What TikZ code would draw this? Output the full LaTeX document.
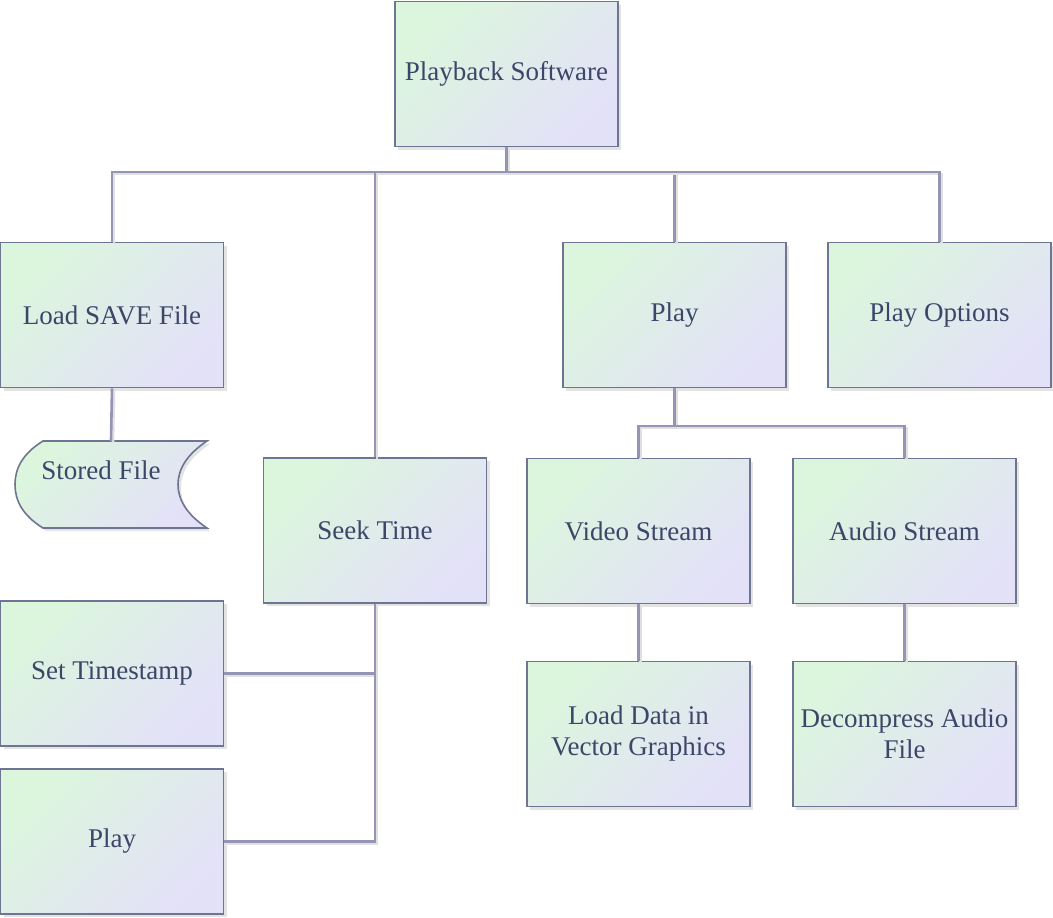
\documentclass[tikz,border=0pt]{standalone}
\usepackage{fontspec}
\setmainfont{Liberation Serif}
\usetikzlibrary{shadows,calc}
\definecolor{boxline}{HTML}{6E7592}
\definecolor{wireline}{HTML}{9494B4}
\definecolor{fillA}{HTML}{DCF6DD}
\definecolor{fillB}{HTML}{E3E1F8}
\definecolor{ink}{HTML}{3C4668}
\begin{document}
\begin{tikzpicture}[x=1pt,y=-1pt,
  card/.style={draw=boxline, line width=1.6pt, top color=fillA, bottom color=fillB,
    shading angle=45, minimum width=223pt, minimum height=145pt, inner sep=0pt,
    align=center, text=ink, font=\fontsize{27}{31}\selectfont,
    drop shadow={shadow xshift=3pt, shadow yshift=-3pt, opacity=0.18, fill=black!60}},
  wire/.style={draw=wireline, line width=2.6pt, line join=miter,
    preaction={draw=black!12, line width=2.6pt, transform canvas={shift={(2pt,-2pt)}}}},
  label/.style={text=ink, font=\fontsize{27}{31}\selectfont, inner sep=0pt}
]
\useasboundingbox (0,0) rectangle (1053,918);

% boxes
\node[card] (root)   at (506.5,74)  {Playback Software};
\node[card] (load)   at (112,315)   {Load SAVE File};
\node[card] (seek)   at (375,530.5) {Seek Time};
\node[card] (play)   at (674.5,315) {Play};
\node[card] (opts)   at (939.5,315) {Play Options};
\node[card] (video)  at (638.5,531) {Video Stream};
\node[card] (audio)  at (904.5,531) {Audio Stream};
\node[card] (vector) at (638.5,734) {Load Data in\\Vector Graphics};
\node[card] (decomp) at (904.5,734) {Decompress Audio\\File};
\node[card] (stamp)  at (112,673.5) {Set Timestamp};
\node[card] (play2)  at (112,841.5) {Play};

% stored data symbol
\node[minimum width=192pt, minimum height=87pt, inner sep=0pt] (stored) at (111,484.5) {};
\path[draw=boxline, line width=1.6pt, top color=fillA, bottom color=fillB, shading angle=45,
      drop shadow={shadow xshift=3pt, shadow yshift=-3pt, opacity=0.18, fill=black!60}]
  (43,441) -- (207,441)
  .. controls (186,455) and (178,470) .. (178,484.5)
  .. controls (178,499) and (186,514) .. (207,528)
  -- (43,528)
  .. controls (22,515) and (15,500) .. (15,484.5)
  .. controls (15,469) and (22,454) .. (43,441) -- cycle;
\node[label] (storedtxt) at ($(stored.center)+(-10,-14)$) {Stored File};

% connectors
\coordinate (bus) at (506.5,172);
\coordinate (pbus) at (674.5,426);
\draw[wire] (root.south) -- (bus) -| (load.north);
\draw[wire] (bus) -| (seek.north);
\draw[wire] (bus) -| (play.north);
\draw[wire] (bus) -| (opts.north);
\draw[wire] (load.south) -- (stored.north);
\draw[wire] (play.south) -- (pbus) -| (video.north);
\draw[wire] (pbus) -| (audio.north);
\draw[wire] (video.south) -- (vector.north);
\draw[wire] (audio.south) -- (decomp.north);
\draw[wire] (seek.south) |- (stamp.east);
\draw[wire] (seek.south) |- (play2.east);
\end{tikzpicture}
\end{document}
